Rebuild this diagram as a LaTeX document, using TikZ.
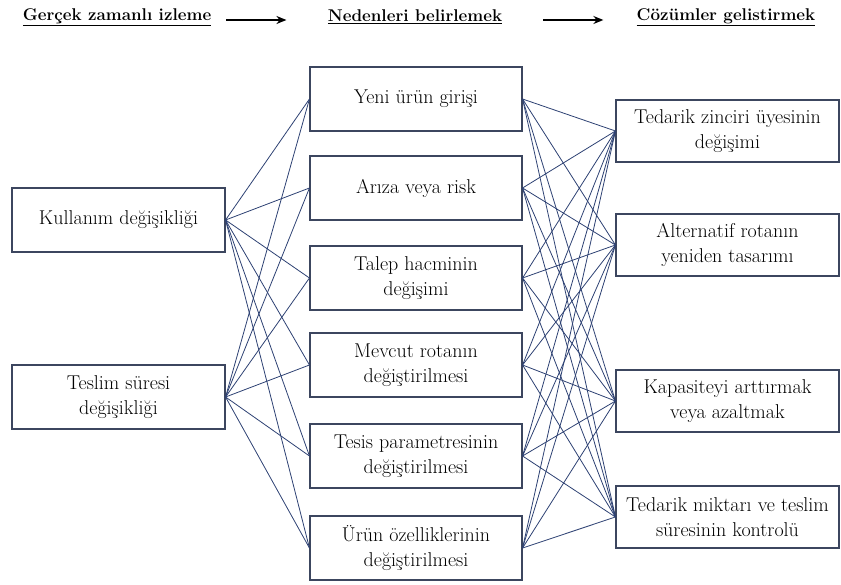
\documentclass[tikz,border=0pt]{standalone}
\usepackage{fontspec}
\usepackage{xcolor}
\usetikzlibrary{arrows.meta,positioning}
\definecolor{linkblue}{RGB}{45,65,115}
\definecolor{boxgray}{RGB}{60,70,95}

\begin{document}
\begin{tikzpicture}[x=1pt,y=-1pt,
  box/.style={draw=boxgray,line width=1.1pt,align=center,font=\fontsize{20}{25}\selectfont,inner sep=0pt},
  cause/.style={box,minimum width=212pt,minimum height=64pt},
  source/.style={box,minimum width=213pt,minimum height=64pt},
  remedy/.style={box,minimum width=223pt,minimum height=62pt},
  head/.style={font=\fontsize{17}{20}\selectfont\bfseries,inner sep=0pt},
  link/.style={draw=linkblue,line width=0.8pt},
  flow/.style={-{Stealth[length=10pt,width=8pt]},line width=2pt}
]
  \useasboundingbox (0,0) rectangle (841,585);

  % Headers
  \node[head] (h1) at (117,17) {\underline{Gerçek zamanlı izleme}};
  \node[head] (h2) at (415,17) {\underline{Nedenleri belirlemek}};
  \node[head] (h3) at (726,17) {\underline{Cözümler gelistirmek}};
  \draw[flow] (h1.east) ++(15,3) coordinate (a1) -- ++(60,0) coordinate (b1);
  \draw[flow] (h2.east) ++(41,3) coordinate (a2) -- ++(60,0) coordinate (b2);

  % Monitoring
  \node[source] (s1) at (118.5,220) {Kullanım değişikliği};
  \node[source] (s2) at (118.5,397) {Teslim süresi\\değişikliği};

  % Causes
  \node[cause] (c1) at (416,99)  {Yeni ürün girişi};
  \node[cause] (c2) at (416,188) {Arıza veya risk};
  \node[cause] (c3) at (416,278) {Talep hacminin\\değişimi};
  \node[cause] (c4) at (416,365) {Mevcut rotanın\\değiştirilmesi};
  \node[cause] (c5) at (416,456) {Tesis parametresinin\\değiştirilmesi};
  \node[cause] (c6) at (416,548) {Ürün özelliklerinin\\değiştirilmesi};

  % Solutions
  \node[remedy] (r1) at (727.5,131) {Tedarik zinciri üyesinin\\değişimi};
  \node[remedy] (r2) at (727.5,245) {Alternatif rotanın\\yeniden tasarımı};
  \node[remedy] (r3) at (727.5,401) {Kapasiteyi arttırmak\\veya azaltmak};
  \node[remedy] (r4) at (727.5,517) {Tedarik miktarı ve teslim\\süresinin kontrolü};

  % Links
  \foreach \s in {1,2}
    \foreach \c in {1,...,6}
      \draw[link] (s\s.east) -- (c\c.west);
  \foreach \c in {1,...,6}
    \foreach \r in {1,...,4}
      \draw[link] (c\c.east) -- (r\r.west);
\end{tikzpicture}
\end{document}
